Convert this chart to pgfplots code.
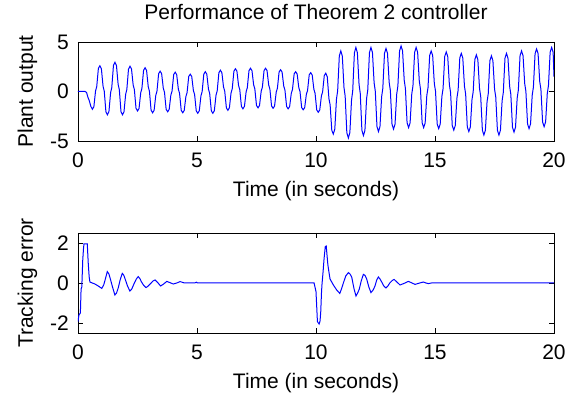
\documentclass[border=0pt]{standalone}
\usepackage{fontspec}
\setmainfont{Liberation Sans}
\usepackage{pgfplots}
\pgfplotsset{compat=1.18}
\pgfplotsset{
  mat/.style={
    scale only axis, width=476pt,
    xmin=0, xmax=20, xtick={0,5,10,15,20},
    tick align=inside, tick pos=both,
    major tick length=5pt,
    axis line style={line width=0.9pt},
    every tick/.style={black, line width=0.9pt},
    /pgf/number format/assume math mode=true,
    xticklabel style={anchor=base, yshift=-26.5pt, inner sep=0pt},
    yticklabel style={anchor=east, xshift=-9pt, inner sep=0pt},
    xlabel style={at={(axis description cs:0.5,0)}, anchor=base, yshift=-56pt, inner sep=0pt},
    ylabel style={at={([xshift=-45pt]axis description cs:0,0.5)}, rotate=0, anchor=base, inner sep=0pt},
    title style={at={(axis description cs:0.5,1)}, anchor=base, yshift=16pt, inner sep=0pt},
  },
  sig/.style={blue, line width=1pt, mark=none},
}
\begin{document}
\fontsize{21}{25}\selectfont
\begin{tikzpicture}
\path[use as bounding box] (-78pt,-60pt) rectangle (504pt,333pt);
% top axis
\begin{axis}[mat, at={(0,192pt)}, height=99pt,
  ymin=-5, ymax=5, ytick={-5,0,5},
  title={Performance of Theorem 2 controller},
  xlabel={Time (in seconds)}, ylabel={Plant output}]
\addplot[sig] coordinates {
(0,0) (0.30,0) (0.36,-0.1) (0.42,-0.6) (0.47,-0.9) (0.54,-1.5) (0.604,-1.80)
(0.667,-1.54) (0.737,0.05) (0.787,0.49) (0.857,2.34) (0.920,2.60)
(0.983,2.30) (1.053,0.52) (1.103,0.03) (1.173,-2.05) (1.237,-2.35)
(1.300,-2.03) (1.370,-0.12) (1.420,0.41) (1.490,2.63) (1.553,2.95)
(1.616,2.63) (1.686,0.72) (1.736,0.19) (1.806,-2.03) (1.869,-2.35)
(1.932,-2.06) (2.002,-0.29) (2.052,0.20) (2.122,2.26) (2.185,2.55)
(2.248,2.28) (2.318,0.65) (2.368,0.20) (2.438,-1.70) (2.502,-1.97)
(2.565,-1.71) (2.635,-0.13) (2.685,0.30) (2.755,2.14) (2.818,2.40)
(2.881,2.13) (2.951,0.49) (3.001,0.03) (3.071,-1.88) (3.135,-2.15)
(3.198,-1.90) (3.268,-0.39) (3.318,0.03) (3.388,1.80) (3.451,2.05)
(3.514,1.80) (3.584,0.33) (3.634,-0.08) (3.704,-1.80) (3.768,-2.05)
(3.831,-1.81) (3.901,-0.37) (3.951,0.03) (4.021,1.71) (4.084,1.95)
(4.147,1.70) (4.217,0.23) (4.267,-0.18) (4.337,-1.90) (4.400,-2.15)
(4.463,-1.92) (4.533,-0.51) (4.583,-0.12) (4.653,1.52) (4.716,1.75)
(4.779,1.51) (4.849,0.09) (4.899,-0.30) (4.969,-1.96) (5.033,-2.20)
(5.096,-1.95) (5.166,-0.44) (5.216,-0.02) (5.286,1.75) (5.349,2.00)
(5.412,1.75) (5.482,0.24) (5.532,-0.18) (5.602,-1.95) (5.666,-2.20)
(5.729,-1.94) (5.799,-0.37) (5.849,0.06) (5.919,1.89) (5.982,2.15)
(6.045,1.91) (6.115,0.45) (6.165,0.04) (6.235,-1.66) (6.298,-1.90)
(6.361,-1.65) (6.431,-0.14) (6.481,0.28) (6.551,2.05) (6.614,2.30)
(6.677,2.06) (6.747,0.60) (6.797,0.19) (6.867,-1.51) (6.931,-1.75)
(6.994,-1.50) (7.064,-0.03) (7.114,0.38) (7.184,2.10) (7.247,2.35)
(7.310,2.11) (7.380,0.67) (7.430,0.27) (7.500,-1.41) (7.564,-1.65)
(7.627,-1.41) (7.697,0.03) (7.747,0.43) (7.817,2.11) (7.880,2.35)
(7.943,2.11) (8.013,0.65) (8.063,0.24) (8.133,-1.46) (8.196,-1.70)
(8.259,-1.47) (8.329,-0.06) (8.379,0.33) (8.449,1.97) (8.512,2.20)
(8.575,1.96) (8.645,0.54) (8.695,0.15) (8.765,-1.51) (8.829,-1.75)
(8.892,-1.53) (8.962,-0.18) (9.012,0.20) (9.082,1.78) (9.145,2.00)
(9.208,1.77) (9.278,0.38) (9.328,0.00) (9.398,-1.62) (9.462,-1.85)
(9.525,-1.63) (9.595,-0.28) (9.645,0.10) (9.715,1.68) (9.778,1.90)
(9.841,1.66) (9.911,0.22) (9.961,-0.18) (10.031,-1.86) (10.095,-2.10)
(10.158,-1.86) (10.228,-0.44) (10.278,-0.05) (10.348,1.61) (10.411,1.85)
(10.474,1.48) (10.544,-0.73) (10.594,-1.35) (10.664,-3.93) (10.727,-4.30)
(10.790,-3.80) (10.860,-0.77) (10.910,0.07) (10.980,3.60) (11.043,4.10)
(11.106,3.57) (11.176,0.40) (11.226,-0.48) (11.296,-4.17) (11.360,-4.70)
(11.423,-4.15) (11.493,-0.86) (11.543,0.06) (11.613,3.90) (11.676,4.45)
(11.739,3.92) (11.809,0.71) (11.859,-0.18) (11.929,-3.92) (11.993,-4.45)
(12.056,-3.92) (12.126,-0.71) (12.176,0.18) (12.246,3.92) (12.309,4.45)
(12.372,3.94) (12.442,0.88) (12.492,0.03) (12.562,-3.54) (12.625,-4.05)
(12.688,-3.55) (12.758,-0.52) (12.808,0.32) (12.878,3.85) (12.941,4.35)
(13.004,3.86) (13.074,0.93) (13.124,0.11) (13.194,-3.31) (13.258,-3.80)
(13.321,-3.30) (13.391,-0.27) (13.441,0.57) (13.511,4.10) (13.574,4.60)
(13.637,4.11) (13.707,1.14) (13.757,0.31) (13.827,-3.16) (13.891,-3.65)
(13.954,-3.16) (14.024,-0.25) (14.074,0.56) (14.144,3.96) (14.207,4.45)
(14.270,3.96) (14.340,1.05) (14.390,0.24) (14.460,-3.16) (14.523,-3.65)
(14.586,-3.19) (14.656,-0.40) (14.706,0.38) (14.776,3.64) (14.839,4.10)
(14.902,3.63) (14.972,0.80) (15.022,0.02) (15.092,-3.28) (15.156,-3.75)
(15.219,-3.29) (15.289,-0.50) (15.339,0.28) (15.409,3.54) (15.472,4.00)
(15.535,3.53) (15.605,0.68) (15.655,-0.11) (15.725,-3.43) (15.789,-3.90)
(15.852,-3.44) (15.922,-0.65) (15.972,0.13) (16.042,3.39) (16.105,3.85)
(16.168,3.38) (16.238,0.53) (16.288,-0.26) (16.358,-3.58) (16.422,-4.05)
(16.485,-3.59) (16.555,-0.80) (16.605,-0.02) (16.675,3.24) (16.738,3.70)
(16.801,3.21) (16.871,0.30) (16.921,-0.51) (16.991,-3.91) (17.054,-4.40)
(17.117,-3.92) (17.187,-1.04) (17.237,-0.24) (17.307,3.12) (17.370,3.60)
(17.433,3.12) (17.503,0.24) (17.553,-0.56) (17.623,-3.92) (17.687,-4.40)
(17.750,-3.91) (17.820,-0.94) (17.870,-0.11) (17.940,3.36) (18.003,3.85)
(18.066,3.37) (18.136,0.51) (18.186,-0.28) (18.256,-3.62) (18.320,-4.10)
(18.383,-3.61) (18.453,-0.66) (18.503,0.16) (18.573,3.61) (18.636,4.10)
(18.699,3.63) (18.769,0.80) (18.819,0.02) (18.889,-3.28) (18.952,-3.75)
(19.015,-3.27) (19.085,-0.37) (19.135,0.44) (19.205,3.82) (19.268,4.30)
(19.331,3.83) (19.401,1.00) (19.451,0.22) (19.521,-3.08) (19.585,-3.55)
(19.648,-3.07) (19.718,-0.19) (19.768,0.61) (19.838,3.97) (19.901,4.45)
(19.964,3.97) (20.000,1.50)
};
\end{axis}
% bottom axis
\begin{axis}[mat, at={(0,0)}, height=100pt,
  ymin=-2.5, ymax=2.5, ytick={-2,0,2},
  xlabel={Time (in seconds)}, ylabel={Tracking error}]
\addplot[sig] coordinates {
(0,-1.93) (0.04,-1.6) (0.10,-1.5) (0.13,-0.3) (0.16,-0.2) (0.20,1.15) (0.23,1.7) (0.25,1.95)
(0.39,1.95) (0.43,1.0) (0.47,0.3) (0.50,0.05) (0.60,0.0) (0.71,-0.05) (0.85,-0.15)
(1.00,-0.27) (1.08,-0.10) (1.15,0.20) (1.23,0.57) (1.30,0.45) (1.36,0.20) (1.45,-0.20)
(1.55,-0.60) (1.62,-0.50) (1.69,-0.25) (1.77,0.15) (1.86,0.48) (1.92,0.40) (1.98,0.20)
(2.08,-0.15) (2.18,-0.40) (2.26,-0.30) (2.35,-0.05) (2.45,0.20) (2.53,0.32) (2.60,0.22)
(2.67,0.05) (2.76,-0.12) (2.86,-0.23) (2.95,-0.15) (3.05,-0.03) (3.15,0.10) (3.24,0.15)
(3.35,0.02) (3.47,-0.15) (3.60,-0.05) (3.73,0.08) (3.86,0.02) (4.00,-0.05) (4.15,0.00)
(4.29,0.07) (4.45,0.01) (4.60,0.00) (4.90,0.00) (4.97,0.04) (5.02,0.00) (9.92,0.00)
(10.00,-0.43) (10.06,-1.93) (10.13,-2.05) (10.17,-1.90) (10.20,-1.43) (10.23,-0.50)
(10.25,-0.10) (10.30,0.60) (10.34,1.23) (10.39,1.82) (10.43,1.85) (10.47,1.30)
(10.50,0.90) (10.55,0.50) (10.59,0.20) (10.73,-0.10) (10.87,-0.35) (11.00,-0.52)
(11.07,-0.30) (11.15,0.00) (11.25,0.35) (11.36,0.52) (11.43,0.45) (11.50,0.30)
(11.60,-0.30) (11.68,-0.65) (11.75,-0.50) (11.82,-0.30) (11.90,0.10) (11.99,0.43)
(12.06,0.38) (12.13,0.20) (12.22,-0.20) (12.31,-0.48) (12.40,-0.35) (12.48,-0.15)
(12.55,0.15) (12.62,0.30) (12.69,0.20) (12.76,0.05) (12.85,-0.15) (12.94,-0.25)
(13.02,-0.15) (13.10,0.00) (13.20,0.12) (13.28,0.18) (13.40,0.05) (13.53,-0.10)
(13.70,-0.02) (13.88,0.08) (14.00,0.02) (14.16,-0.07) (14.30,-0.02) (14.51,0.05)
(14.62,0.00) (14.72,-0.03) (14.85,0.00) (20.00,0.00)
};
\end{axis}
\end{tikzpicture}
\end{document}
